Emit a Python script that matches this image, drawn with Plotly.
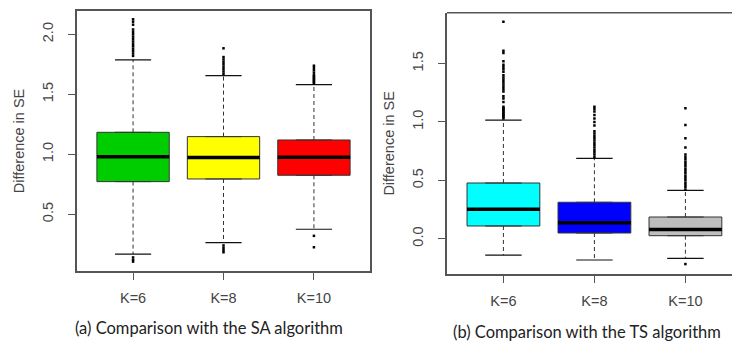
import plotly.graph_objects as go

# ---------------- data ----------------
categories = ["K=6", "K=8", "K=10"]

sa_q1 = [0.772, 0.794, 0.825]
sa_median = [0.980, 0.972, 0.975]
sa_q3 = [1.183, 1.147, 1.119]
sa_lower = [0.167, 0.263, 0.375]
sa_upper = [1.786, 1.655, 1.580]
sa_colors = ["#00CD00", "#FFFF00", "#FF0000"]
sa_outliers = [
    [1.82, 1.84, 1.86, 1.88, 1.90, 1.92, 1.94, 1.96, 1.98, 2.00, 2.02, 2.04, 2.08, 2.105, 2.125, 0.105, 0.12, 0.14],
    [1.67, 1.69, 1.71, 1.73, 1.75, 1.77, 1.79, 1.81, 1.883, 0.183, 0.20, 0.22, 0.24],
    [1.59, 1.60, 1.61, 1.62, 1.63, 1.64, 1.65, 1.66, 1.68, 1.70, 1.72, 1.738, 0.32, 0.225],
]

ts_q1 = [0.109, 0.049, 0.026]
ts_median = [0.252, 0.137, 0.080]
ts_q3 = [0.477, 0.312, 0.186]
ts_lower = [-0.140, -0.182, -0.168]
ts_upper = [1.016, 0.688, 0.414]
ts_colors = ["#00FFFF", "#0000FF", "#BEBEBE"]
ts_outliers = [
    [1.03, 1.04, 1.05, 1.06, 1.07, 1.08, 1.09, 1.10, 1.11, 1.12, 1.13, 1.17, 1.20, 1.22, 1.26, 1.28,
     1.30, 1.32, 1.34, 1.36, 1.38, 1.40, 1.43, 1.45, 1.47, 1.49, 1.52, 1.59, 1.61, 1.858],
    [0.70, 0.72, 0.74, 0.76, 0.78, 0.80, 0.82, 0.84, 0.86, 0.88, 0.90, 0.92, 0.97, 1.00, 1.03, 1.06,
     1.09, 1.11, 1.13],
    [0.42, 0.44, 0.46, 0.48, 0.50, 0.52, 0.54, 0.56, 0.58, 0.60, 0.62, 0.64, 0.66, 0.68, 0.70, 0.72,
     0.78, 0.86, 0.973, 1.116, -0.217],
]

captions = ["(a) Comparison with the SA algorithm", "(b) Comparison with the TS algorithm"]
y_title = "Difference in SE"
sa_ticks = [0.5, 1.0, 1.5, 2.0]
ts_ticks = [0.0, 0.5, 1.0, 1.5]

# ---------------- figure ----------------
fig = go.Figure()
positions = [1, 2, 3]
LINE = "#333333"


def add_panel(xr, yr, q1, med, q3, lo, hi, cols, outl):
    for i, p in enumerate(positions):
        fig.add_trace(go.Box(
            x=[p], q1=[q1[i]], median=[med[i]], q3=[q3[i]],
            lowerfence=[q1[i]], upperfence=[q3[i]],
            width=0.8, fillcolor=cols[i], line=dict(color=LINE, width=1),
            boxpoints=False, xaxis=xr, yaxis=yr, showlegend=False, hoverinfo="skip"))
        # median
        fig.add_trace(go.Scatter(x=[p - 0.4, p + 0.4], y=[med[i], med[i]], mode="lines",
                                 line=dict(color="black", width=3.5), xaxis=xr, yaxis=yr,
                                 showlegend=False, hoverinfo="skip"))
        # whiskers
        for a, b in ((q3[i], hi[i]), (q1[i], lo[i])):
            fig.add_trace(go.Scatter(x=[p, p], y=[a, b], mode="lines",
                                     line=dict(color=LINE, width=1, dash="4px,3px"),
                                     xaxis=xr, yaxis=yr, showlegend=False, hoverinfo="skip"))
        # staples
        for v in (hi[i], lo[i]):
            fig.add_trace(go.Scatter(x=[p - 0.2, p + 0.2], y=[v, v], mode="lines",
                                     line=dict(color="#111111", width=1.2),
                                     xaxis=xr, yaxis=yr, showlegend=False, hoverinfo="skip"))
        # outliers
        fig.add_trace(go.Scatter(x=[p] * len(outl[i]), y=outl[i], mode="markers",
                                 marker=dict(color="black", size=2.5, symbol="square"),
                                 xaxis=xr, yaxis=yr, showlegend=False, hoverinfo="skip"))


add_panel("x", "y", sa_q1, sa_median, sa_q3, sa_lower, sa_upper, sa_colors, sa_outliers)
add_panel("x2", "y2", ts_q1, ts_median, ts_q3, ts_lower, ts_upper, ts_colors, ts_outliers)

W, H = 732, 341
tickfont = dict(family="Liberation Sans", size=14.5, color="#444444")
frame = "#555555"

xcommon = dict(tickmode="array", tickvals=positions, ticktext=categories, ticks="outside",
               ticklen=7, tickcolor=frame, tickfont=tickfont, showgrid=False, zeroline=False,
               showline=True, linecolor=frame, linewidth=1.5, ticklabelstandoff=6)
ycommon = dict(tickmode="array", ticks="outside", ticklen=7, tickcolor=frame, tickfont=tickfont,
               tickangle=-90, showgrid=False, zeroline=False, showline=True, linecolor=frame,
               linewidth=1.5, ticklabelstandoff=9,
               title=dict(text=y_title, font=tickfont, standoff=12))

fig.update_layout(
    width=W, height=H, margin=dict(l=0, r=0, t=0, b=0),
    plot_bgcolor="white", paper_bgcolor="white",
    font=dict(family="Liberation Sans"),
    xaxis=dict(domain=[77 / W, 370 / W], range=[0.38, 3.62], anchor="y", mirror=True, **xcommon),
    yaxis=dict(domain=[1 - 271 / H, 1 - 11 / H], range=[0.027, 2.194], anchor="x",
               tickvals=sa_ticks, ticktext=["0.5", "1.0", "1.5", "2.0"], mirror=True, **ycommon),
    xaxis2=dict(domain=[447 / W, 1.0], range=[0.38, 0.38 + (W - 447) / 91.0], anchor="y2",
                mirror=False, **xcommon),
    yaxis2=dict(domain=[1 - 274 / H, 1 - 12.7 / H], range=[-0.302, 1.935], anchor="x2",
                tickvals=ts_ticks, ticktext=["0.0", "0.5", "1.0", "1.5"], mirror=False, **ycommon),
)

# top frame line for right panel (right edge is cut off in the reference)
fig.add_shape(type="line", xref="x2 domain", yref="y2 domain", x0=0, x1=1, y0=1, y1=1,
              line=dict(color=frame, width=1.5))

capfont = dict(family="Lato", size=16.5, color="#222222")
fig.add_annotation(text=captions[0], xref="paper", yref="paper", x=209 / W, y=1 - 328 / H,
                   showarrow=False, font=capfont, xanchor="center", yanchor="middle")
fig.add_annotation(text=captions[1], xref="paper", yref="paper", x=587 / W, y=1 - 332 / H,
                   showarrow=False, font=capfont, xanchor="center", yanchor="middle")

fig.write_html("out.html")
